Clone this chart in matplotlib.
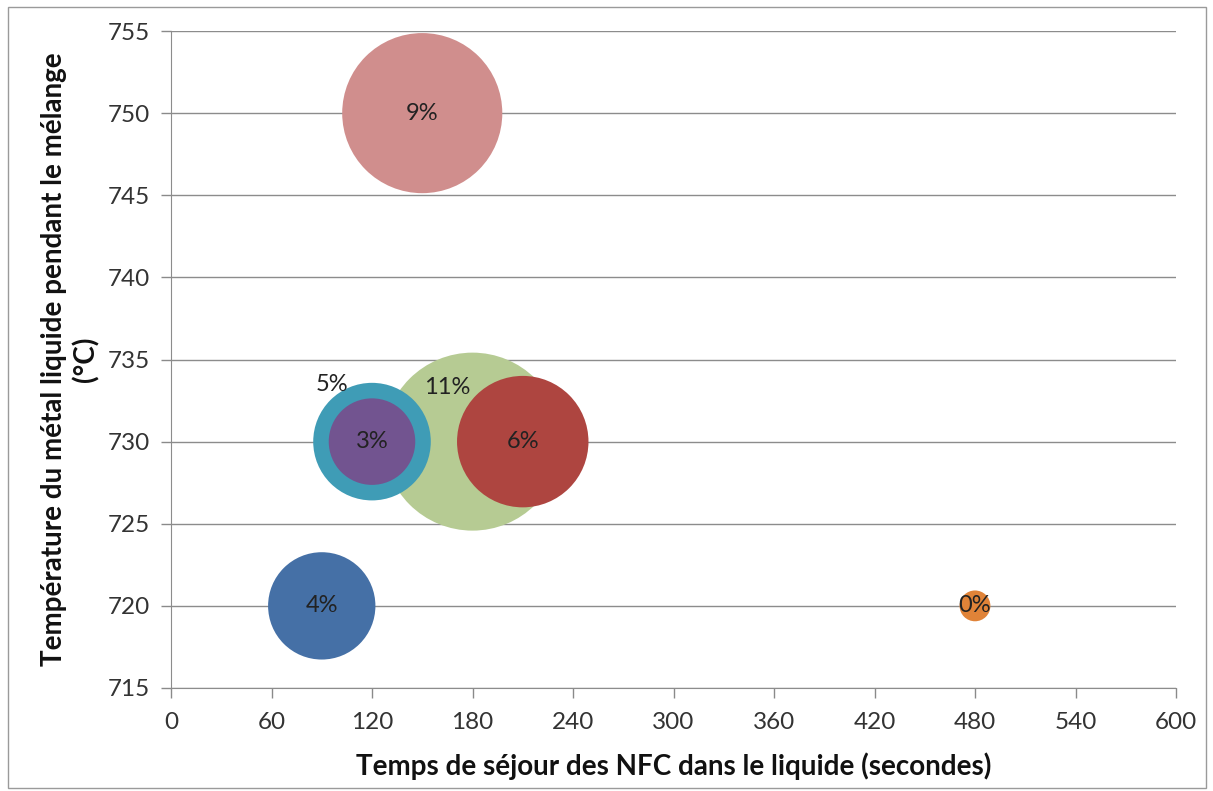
import matplotlib
matplotlib.use("Agg")
import matplotlib.pyplot as plt
from matplotlib.patches import Rectangle

plt.rcParams['font.family'] = ['Lato', 'DejaVu Sans']

# bubbles, in drawing order
temps = [180, 150, 210, 120, 120, 90, 480]          # secondes
temperature = [730, 750, 730, 730, 730, 720, 720]   # °C
pourcent = [11.0, 8.9, 6.0, 4.8, 2.6, 4.0, 0.33]     # bubble value (%)
couleurs = ['#B6CB93', '#D08E8D', '#AE4540', '#3F9CB6', '#725490', '#4570A6', '#E08338']
# label offsets for the two labels moved off their bubble
label_pos = {0: (165, 733.3), 3: (96, 733.5)}

xticks = list(range(0, 601, 60))
yticks = list(range(715, 756, 5))

fig = plt.figure(figsize=(12.13, 7.91), dpi=100)
ax = fig.add_axes([171/1213, 1 - 688/791, (1176-171)/1213, (688-31)/791])

scale = 1493  # points^2 per percent
for i, (x, y, v, c) in enumerate(zip(temps, temperature, pourcent, couleurs)):
    ax.scatter([x], [y], s=scale*v, color=c, edgecolors='none', zorder=3+i)
for i, (x, y, v) in enumerate(zip(temps, temperature, pourcent)):
    lx, ly = label_pos.get(i, (x, y))
    ax.text(lx, ly, f"{v:.0f}%", ha='center', va='center', fontsize=17,
            color='#222222', zorder=20)

ax.set_xlim(0, 600)
ax.set_ylim(715, 755)
ax.set_xticks(xticks)
ax.set_yticks(yticks)
ax.tick_params(axis='both', labelsize=17.5, colors='#8a8a8a', labelcolor='#333333',
               length=7, width=1, direction='out', pad=8)
ax.tick_params(axis='x', pad=10)
ax.grid(axis='y', color='#8c8c8c', linewidth=1, zorder=0)
ax.set_axisbelow(True)
for s in ['top', 'right']:
    ax.spines[s].set_visible(False)
for s in ['left', 'bottom']:
    ax.spines[s].set_color('#8c8c8c')

ax.set_xlabel('Temps de séjour des NFC dans le liquide (secondes)', fontsize=20,
              fontweight='bold', labelpad=14, color='#111111')
ax.set_ylabel('Température du métal liquide pendant le mélange\n(°C)', fontsize=20,
              fontweight='bold', labelpad=6, color='#111111', linespacing=1.25)

fig.patches.append(Rectangle((8/1213, 3/791), 1198/1213, 781/791, transform=fig.transFigure,
                             fill=False, edgecolor='#9a9a9a', linewidth=1))

fig.savefig('out.png', dpi=100)
